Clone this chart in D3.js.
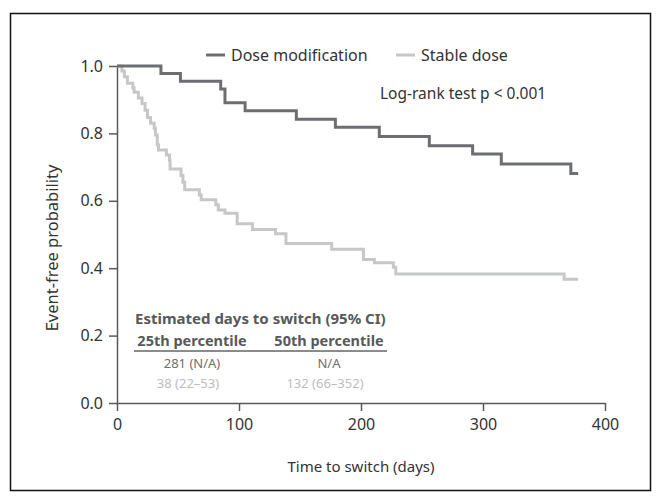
<!DOCTYPE html>
<html>
<head>
<meta charset="utf-8">
<script src="https://cdn.jsdelivr.net/npm/d3@7"></script>
<style>
  body { margin: 0; background: #fff; }
  svg text { font-family: "Noto Sans", sans-serif; }
</style>
</head>
<body>
<div id="chart"></div>
<script>
// Kaplan-Meier curves (days, event-free probability)
const groups = ["Dose modification", "Stable dose"];

const doseModDays = [0, 36, 52, 85, 88.5, 105, 147, 179, 215, 256, 291.5, 315, 372, 378];
const doseModSurv = [1.0, 0.978, 0.955, 0.932, 0.891, 0.867, 0.842, 0.818, 0.791, 0.763, 0.739, 0.709, 0.681, 0.681];

const stableDays = [0, 4, 6, 8.5, 13, 14, 17.5, 20.5, 23, 25, 27.5, 30.5, 31.5, 33, 34, 40.5, 43, 43.5,
  52.5, 54, 55.5, 67.5, 69, 81, 83, 88.5, 98.5, 111, 130, 138.5, 176, 202, 211, 226.5, 228.5, 366.5, 378];
const stableSurv = [1.0, 0.985, 0.968, 0.949, 0.935, 0.922, 0.905, 0.889, 0.869, 0.847, 0.830, 0.815, 0.795, 0.766, 0.751, 0.736, 0.721, 0.694,
  0.675, 0.655, 0.633, 0.617, 0.603, 0.588, 0.573, 0.563, 0.532, 0.515, 0.502, 0.473, 0.456, 0.426, 0.416, 0.403, 0.383, 0.367, 0.367];

const xTicks = [0, 100, 200, 300, 400];
const yTicks = [0, 0.2, 0.4, 0.6, 0.8, 1.0];

// table inset
const tableTitle = "Estimated days to switch (95% CI)";
const tableCols = ["25th percentile", "50th percentile"];
const tableRowDose = ["281 (N/A)", "N/A"];
const tableRowStable = ["38 (22\u201353)", "132 (66\u2013352)"];

const colors = ["#6d6e71", "#c6c7c9"];

const width = 661, height = 499;
const svg = d3.select("#chart").append("svg")
  .attr("width", width)
  .attr("height", height);

// outer frame
svg.append("rect")
  .attr("x", 10.5).attr("y", 13.5)
  .attr("width", 640).attr("height", 477)
  .attr("fill", "none")
  .attr("stroke", "#111")
  .attr("stroke-width", 1.5);

const x = d3.scaleLinear().domain([0, 400]).range([117, 605]);
const y = d3.scaleLinear().domain([0, 1]).range([403, 66]);

// axes
const xAxis = svg.append("g")
  .attr("transform", `translate(0,${y(0)})`)
  .call(d3.axisBottom(x).tickValues(xTicks).tickFormat(d3.format("d")).tickSize(8).tickSizeOuter(0).tickPadding(8));
const yAxis = svg.append("g")
  .attr("transform", `translate(${x(0)},0)`)
  .call(d3.axisLeft(y).tickValues(yTicks).tickFormat(d3.format(".1f")).tickSize(8).tickSizeOuter(0).tickPadding(6));

[xAxis, yAxis].forEach(g => {
  g.select(".domain").attr("stroke", "#58595b").attr("stroke-width", 1.5);
  g.selectAll(".tick line").attr("stroke", "#58595b").attr("stroke-width", 1.5);
  g.selectAll(".tick text").attr("fill", "#333").style("font-size", "16px");
});

// axis titles
svg.append("text")
  .attr("x", (x(0) + x(400)) / 2).attr("y", 472)
  .attr("text-anchor", "middle")
  .attr("fill", "#333")
  .style("font-size", "15px")
  .text("Time to switch (days)");

svg.append("text")
  .attr("transform", `translate(58,248) rotate(-90)`)
  .attr("text-anchor", "middle")
  .attr("fill", "#333")
  .style("font-size", "16.5px")
  .text("Event-free probability");

// curves
const line = d3.line()
  .x(d => x(d[0]))
  .y(d => y(d[1]))
  .curve(d3.curveStepAfter);

const series = [
  d3.zip(stableDays, stableSurv),
  d3.zip(doseModDays, doseModSurv)
];
const seriesColors = [colors[1], colors[0]];

series.forEach((s, i) => {
  svg.append("path")
    .datum(s)
    .attr("d", line)
    .attr("fill", "none")
    .attr("stroke", seriesColors[i])
    .attr("stroke-width", 3);
});

// legend
const legendX = [206, 396];
groups.forEach((g, i) => {
  svg.append("line")
    .attr("x1", legendX[i]).attr("x2", legendX[i] + 19)
    .attr("y1", 55).attr("y2", 55)
    .attr("stroke", colors[i])
    .attr("stroke-width", 3);
  svg.append("text")
    .attr("x", legendX[i] + 25).attr("y", 61)
    .attr("fill", "#333")
    .style("font-size", "16px")
    .text(g);
});

svg.append("text")
  .attr("x", 380).attr("y", 99)
  .attr("fill", "#333")
  .style("font-size", "15.5px")
  .text("Log-rank test p < 0.001");

// table
const colX = [192, 329];
svg.append("text")
  .attr("x", 135).attr("y", 324)
  .attr("fill", "#58595b")
  .style("font-size", "15px")
  .style("font-weight", "bold")
  .text(tableTitle);

tableCols.forEach((c, i) => {
  svg.append("text")
    .attr("x", colX[i]).attr("y", 346)
    .attr("text-anchor", "middle")
    .attr("fill", "#58595b")
    .style("font-size", "14.5px")
    .style("font-weight", "bold")
    .text(c);
});

svg.append("line")
  .attr("x1", 134).attr("x2", 387)
  .attr("y1", 351).attr("y2", 351)
  .attr("stroke", "#8a8b8d")
  .attr("stroke-width", 2);

tableRowDose.forEach((t, i) => {
  svg.append("text")
    .attr("x", colX[i]).attr("y", 368)
    .attr("text-anchor", "middle")
    .attr("fill", "#6d6e71")
    .style("font-size", "13px")
    .text(t);
});
tableRowStable.forEach((t, i) => {
  svg.append("text")
    .attr("x", colX[i] - 4).attr("y", 388)
    .attr("text-anchor", "middle")
    .attr("fill", "#bcbdbf")
    .style("font-size", "13px")
    .text(t);
});
</script>
</body>
</html>
